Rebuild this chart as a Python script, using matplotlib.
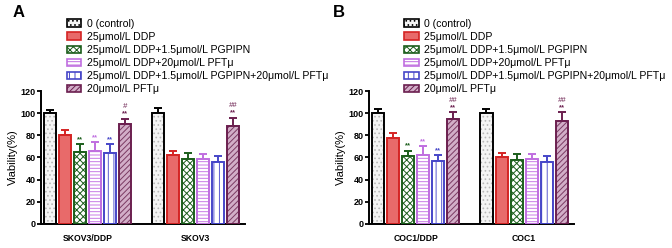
import matplotlib.pyplot as plt
from matplotlib.patches import Patch

# Data
legend_labels = ['0 (control)', '25μmol/L DDP', '25μmol/L DDP+1.5μmol/L PGPIPN',
                 '25μmol/L DDP+20μmol/L PFTμ',
                 '25μmol/L DDP+1.5μmol/L PGPIPN+20μmol/L PFTμ', '20μmol/L PFTμ']
groups_a = ['SKOV3/DDP', 'SKOV3']
means_a = [[100, 80, 65, 66, 64, 90], [100, 62, 59, 59, 56, 88]]
errs_a = [[3, 5, 7, 8, 8, 5], [5, 4, 5, 4, 5, 8]]
groups_b = ['COC1/DDP', 'COC1']
means_b = [[100, 78, 61, 62, 57, 95], [100, 60, 58, 59, 56, 93]]
errs_b = [[4, 4, 5, 8, 5, 6], [4, 4, 5, 4, 5, 8]]
stars_a = [['', '', '**', '**', '**', '**'], ['', '', '', '', '', '**']]
hash_a = [['', '', '', '', '', '#'], ['', '', '', '', '', '##']]
stars_b = [['', '', '**', '**', '**', '**'], ['', '', '', '', '', '**']]
hash_b = [['', '', '', '', '', '##'], ['', '', '', '', '', '##']]

# Styles
faces = ['#f4f4f4', '#e86a6a', 'white', 'white', 'white', '#d2aec8']
edges = ['black', '#d42424', '#1b5e1b', '#c06ee0', '#4646c8', '#6b1f4f']
hatch_col = ['#b8b8b8', '#d42424', '#1b5e1b', '#c87ae6', '#5a5ad0', '#7a3a62']
hatches = ['....', '', 'xxxxx', '-----', '|||', '//////']
mark_col = ['black', 'black', '#1b5e1b', '#c06ee0', '#4646c8', '#6b1f4f']

plt.rcParams['font.family'] = ['Arial', 'Liberation Sans', 'DejaVu Sans']
plt.rcParams['hatch.linewidth'] = 0.7

fig = plt.figure(figsize=(6.72, 2.48), dpi=100)
ax_a = fig.add_axes([0.061, 0.097, 0.304, 0.536])
ax_b = fig.add_axes([0.549, 0.097, 0.305, 0.536])

offset = 7.2
w = 0.8


def draw_panel(ax, groups, means, errs, stars, hashes):
    for g in range(len(groups)):
        for i in range(6):
            x = i + g * offset
            m = means[g][i]
            e = errs[g][i]
            ax.errorbar(x, m, yerr=[[0], [e]], fmt='none', ecolor=edges[i],
                        elinewidth=1.4, capsize=2.8, capthick=1.4, zorder=1)
            ax.bar(x, m, w, color=faces[i], edgecolor=hatch_col[i],
                   hatch=hatches[i], linewidth=0, zorder=2)
            ax.bar(x, m, w, color='none', edgecolor=edges[i], linewidth=1.4, zorder=3)
            if stars[g][i]:
                ax.text(x, m + e + 1, stars[g][i], color=mark_col[i], ha='center',
                        va='bottom', fontsize=5.5, fontweight='bold')
            if hashes[g][i]:
                ax.text(x, m + e + 7.5, hashes[g][i], color=mark_col[i], ha='center',
                        va='bottom', fontsize=5.5, fontstyle='italic')
    ax.set_xlim(-0.6, 13.0)
    ax.set_ylim(0, 120)
    ax.set_yticks(range(0, 121, 20))
    ax.set_xticks([2.5, 2.5 + offset])
    ax.set_xticklabels(groups, fontsize=6.2, fontweight='bold')
    ax.tick_params(axis='x', length=0, pad=7)
    ax.tick_params(axis='y', labelsize=6.5, length=3, width=1.3, pad=1)
    for lab in ax.get_yticklabels():
        lab.set_fontweight('bold')
    ax.spines['top'].set_visible(False)
    ax.spines['right'].set_visible(False)
    ax.spines['left'].set_linewidth(1.4)
    ax.spines['bottom'].set_linewidth(1.4)
    ax.set_ylabel('Viability(%)', fontsize=8, labelpad=2)


draw_panel(ax_a, groups_a, means_a, errs_a, stars_a, hash_a)
draw_panel(ax_b, groups_b, means_b, errs_b, stars_b, hash_b)

handles = [Patch(facecolor=faces[i], edgecolor=edges[i], hatch=hatches[i], linewidth=1.2)
           for i in range(6)]
for x0 in [0.099, 0.601]:
    fig.legend(handles, legend_labels, loc='upper left', bbox_to_anchor=(x0, 0.925),
               frameon=False, fontsize=7.6, handlelength=1.4, handleheight=0.7,
               handletextpad=0.5, labelspacing=0.3, borderaxespad=0, borderpad=0)

fig.text(0.018, 0.95, 'A', fontsize=12, fontweight='bold', va='center')
fig.text(0.496, 0.95, 'B', fontsize=12, fontweight='bold', va='center')

fig.savefig('out.png', dpi=100)
